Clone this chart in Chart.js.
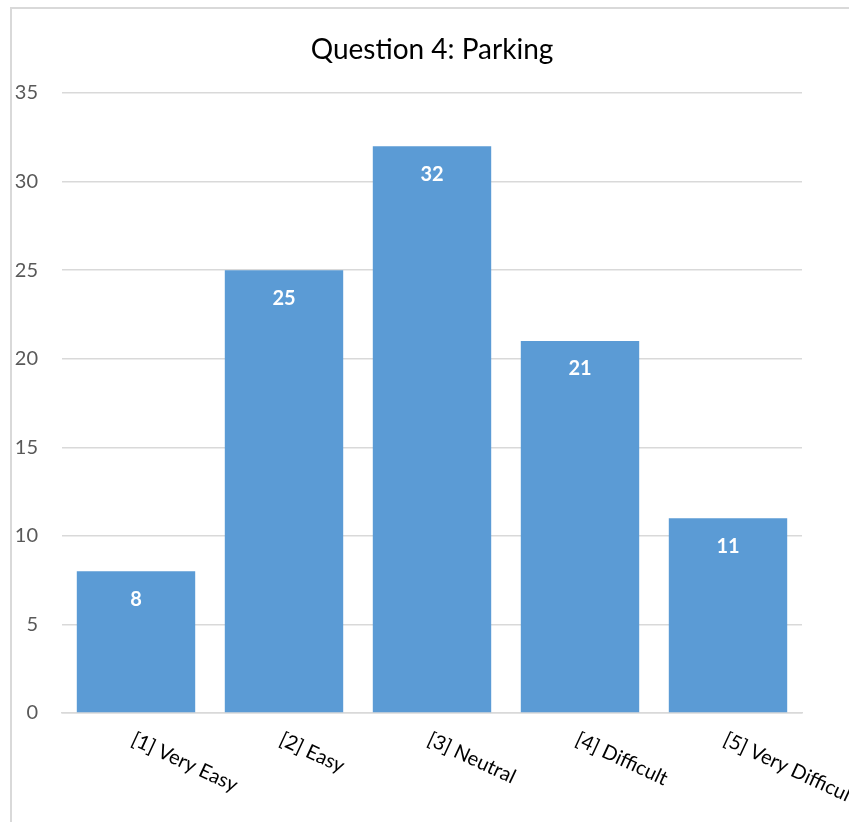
<!DOCTYPE html>
<html>
<head>
<meta charset="utf-8">
<script src="https://cdn.jsdelivr.net/npm/chart.js@4"></script>
<style>
  html, body { margin: 0; padding: 0; background: #fff; }
  #wrap { position: relative; width: 849px; height: 822px; }
  #frame { position: absolute; left: 10px; top: 7px; right: -5px; bottom: -5px;
           border-left: 2px solid #d9d9d9; border-top: 2px solid #d9d9d9; }
  canvas { position: absolute; left: 0; top: 0; }
</style>
</head>
<body>
<div id="wrap">
  <div id="frame"></div>
  <canvas id="q4Chart" width="849" height="822"></canvas>
</div>
<script>
// 차트 데이터
var chartTitle = 'Question 4: Parking';
var categories = ['[1] Very Easy', '[2] Easy', '[3] Neutral', '[4] Difficult', '[5] Very Difficult'];
var counts = [8, 25, 32, 21, 11];
var yMax = 35;
var yStep = 5;

var fontFam = "Lato, 'Open Sans', sans-serif";

// 제목 - 플롯 영역 가운데에 맞춤
var centerTitle = {
    id : 'centerTitle',
    afterDraw : function(chart) {
        var ctx = chart.ctx;
        var area = chart.chartArea;
        ctx.save();
        ctx.fillStyle = '#000000';
        ctx.font = '28px ' + fontFam;
        ctx.textAlign = 'center';
        ctx.textBaseline = 'middle';
        ctx.fillText(chartTitle, (area.left + area.right) / 2, 50);
        ctx.restore();
    }
};

// 막대 안쪽 값 표시
var barValues = {
    id : 'barValues',
    afterDatasetsDraw : function(chart) {
        var ctx = chart.ctx;
        var meta = chart.getDatasetMeta(0);
        ctx.save();
        ctx.fillStyle = '#ffffff';
        ctx.font = 'bold 20px ' + fontFam;
        ctx.textAlign = 'center';
        ctx.textBaseline = 'middle';
        meta.data.forEach(function(bar, i) {
            ctx.fillText(counts[i], bar.x, bar.y + 28);
        });
        ctx.restore();
    }
};

// x축 라벨 (시계 방향으로 기울임)
var slantLabels = {
    id : 'slantLabels',
    afterDraw : function(chart) {
        var ctx = chart.ctx;
        var xs = chart.scales.x;
        ctx.save();
        ctx.fillStyle = '#000000';
        ctx.font = '20px ' + fontFam;
        ctx.textAlign = 'left';
        ctx.textBaseline = 'top';
        categories.forEach(function(lbl, i) {
            var px = xs.getPixelForTick(i);
            ctx.save();
            ctx.translate(px + 1, xs.top + 16);
            ctx.rotate(25 * Math.PI / 180);
            ctx.fillText(lbl, 0, 0);
            ctx.restore();
        });
        ctx.restore();
    }
};

var ctx = document.getElementById('q4Chart').getContext('2d');
var q4Chart = new Chart(ctx, {
    type : 'bar',
    data : {
        labels : categories,
        datasets : [ {
            label : 'Count',
            data : counts,
            backgroundColor : '#5b9bd5',
            barPercentage : 0.8,
            categoryPercentage : 1.0
        } ]
    },
    options : {
        responsive : false,
        animation : false,
        layout : {
            padding : { left : 0, right : 47, top : 93, bottom : 101 }
        },
        plugins : {
            legend : { display : false },
            tooltip : { enabled : false },
            title : { display : false }
        },
        scales : {
            x : {
                ticks : { display : false },
                grid : { display : false },
                border : { display : true, color : '#d9d9d9', width : 1.5 }
            },
            y : {
                min : 0,
                max : yMax,
                afterFit : function(scale) { scale.width = 62; },
                ticks : {
                    stepSize : yStep,
                    color : '#595959',
                    padding : 24,
                    font : { family : fontFam, size : 20 }
                },
                grid : { color : '#d9d9d9', lineWidth : 1.5, drawTicks : false },
                border : { display : false }
            }
        }
    },
    plugins : [ centerTitle, barValues, slantLabels ]
});
</script>
</body>
</html>
